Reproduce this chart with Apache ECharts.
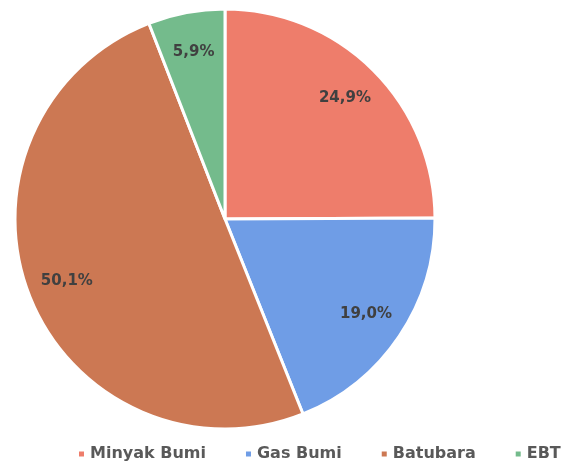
<!DOCTYPE html>
<html><head><meta charset="utf-8">
<script src="https://cdn.jsdelivr.net/npm/echarts@6/dist/echarts.min.js"></script>
<style>html,body{margin:0;padding:0;background:#fff}#c{width:566px;height:469px}</style>
</head><body><div id="c"></div>
<script>
const categories = ['Minyak Bumi', 'Gas Bumi', 'Batubara', 'EBT'];
const values = [24.9, 19.0, 50.1, 5.9];
const colors = ['#EE7D6B', '#6F9DE6', '#CC7853', '#74BB8C'];

const chart = echarts.init(document.getElementById('c'), null, {renderer: 'canvas'});
const data = categories.map((n, i) => ({name: n, value: values[i], itemStyle: {color: colors[i]}}));
const fmt = p => p.value.toFixed(1).replace('.', ',') + '%';
chart.setOption({
  animation: false,
  legend: {
    data: categories, left: 72, top: 441, width: 490, itemWidth: 7, itemHeight: 7, itemGap: 38, icon: 'rect',
    textStyle: {fontFamily: 'DejaVu Sans', fontWeight: 'bold', fontSize: 16, color: '#595959'}
  },
  series: [
    {
      type: 'pie', center: [225, 219], radius: [0, 210], startAngle: 90, clockwise: true,
      data: data, label: {show: false}, labelLine: {show: false},
      itemStyle: {borderColor: '#fff', borderWidth: 3}, emphasis: {disabled: true}, silent: true
    },
    {
      type: 'pie', center: [225, 219], radius: [124, 210], startAngle: 90, clockwise: true,
      data: categories.map((n, i) => ({name: n, value: values[i], itemStyle: {color: 'rgba(0,0,0,0)'}})),
      label: {show: true, position: 'inside', formatter: fmt, fontFamily: 'DejaVu Sans', fontWeight: 'bold', fontSize: 15, color: '#404040'},
      labelLine: {show: false}, emphasis: {disabled: true}, silent: true, legendHoverLink: false
    }
  ]
});
</script></body></html>
